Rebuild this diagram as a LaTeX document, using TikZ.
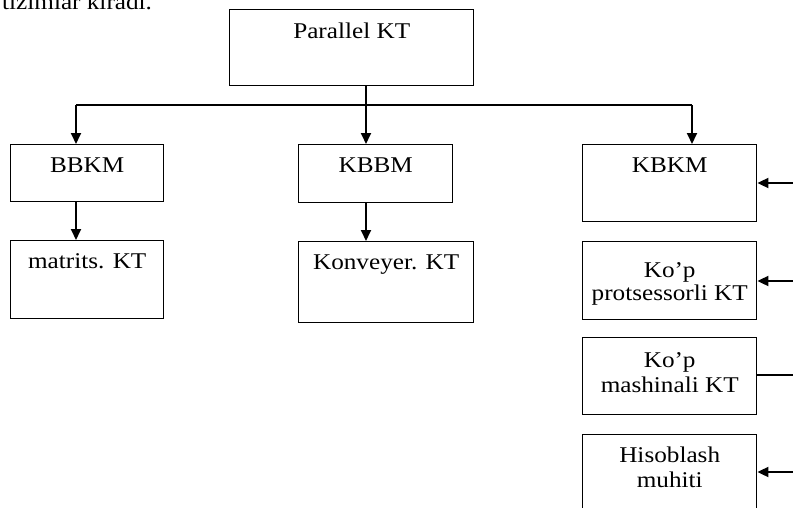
\documentclass[tikz,border=0pt]{standalone}
\usepackage{fontspec}
\setmainfont{Liberation Serif}[FakeStretch=1.12]
\usetikzlibrary{arrows.meta}
\begin{document}
\begin{tikzpicture}[x=1pt,y=-1pt,
  font=\fontsize{22.5}{24}\selectfont,
  box/.style={draw, line width=1.4pt, rectangle, anchor=north west, inner sep=0pt},
  txt/.style={anchor=base, inner sep=0pt},
  conn/.style={line width=1.6pt},
  arr/.style={line width=1.8pt, -{Triangle[length=11pt,width=10pt]}}]
\clip (0,0) rectangle (793,507);
% clipped text line above the figure
\node[txt, anchor=base west] (top) at (2,9) {tizimlar kiradi.};
% boxes
\node[box, minimum width=244pt, minimum height=76pt] (par) at (229,9) {};
\node[box, minimum width=153pt, minimum height=57pt] (bbkm) at (10,144) {};
\node[box, minimum width=153pt, minimum height=78pt] (matr) at (10,240) {};
\node[box, minimum width=154pt, minimum height=58pt] (kbbm) at (298,144) {};
\node[box, minimum width=175pt, minimum height=81pt] (konv) at (298,241) {};
\node[box, minimum width=174pt, minimum height=77pt] (kbkm) at (582,144) {};
\node[box, minimum width=174pt, minimum height=78pt] (prot) at (582,241) {};
\node[box, minimum width=174pt, minimum height=77pt] (mash) at (582,337) {};
\node[box, minimum width=174pt, minimum height=76pt] (hiso) at (582,434) {};
% texts
\node[txt] (tpar) at ([yshift=-29pt]par.north) {Parallel KT};
\node[txt] (tbbkm) at ([yshift=-28pt]bbkm.north) {BBKM};
\node[txt] (tmatr) at ([yshift=-28pt]matr.north) {matrits. KT};
\node[txt] (tkbbm) at ([yshift=-28pt]kbbm.north) {KBBM};
\node[txt] (tkonv) at ([yshift=-28pt]konv.north) {Konveyer. KT};
\node[txt] (tkbkm) at ([yshift=-28pt]kbkm.north) {KBKM};
\node[txt] (tprot1) at ([yshift=-36pt]prot.north) {Ko’p};
\node[txt] (tprot2) at ([yshift=-59pt]prot.north) {protsessorli KT};
\node[txt] (tmash1) at ([yshift=-30pt]mash.north) {Ko’p};
\node[txt] (tmash2) at ([yshift=-55pt]mash.north) {mashinali KT};
\node[txt] (thiso1) at ([yshift=-28pt]hiso.north) {Hisoblash};
\node[txt] (thiso2) at ([yshift=-53pt]hiso.north) {muhiti};
% junction coordinates
\coordinate (j1) at (76,105);
\coordinate (j2) at (366,105);
\coordinate (j3) at (692,105);
\coordinate (r1) at (793,183);
\coordinate (r2) at (793,281);
\coordinate (r3) at (793,375);
\coordinate (r4) at (793,472);
% connectors
\draw[conn] (j1) -- (j3);
\draw[conn] (par.south -| j2) -- (j2);
\draw[arr] (j1) -- (j1 |- bbkm.north);
\draw[arr] (j2) -- (j2 |- kbbm.north);
\draw[arr] (j3) -- (j3 |- kbkm.north);
\draw[arr] (j1 |- bbkm.south) -- (j1 |- matr.north);
\draw[arr] (j2 |- kbbm.south) -- (j2 |- konv.north);
\draw[arr] (r1) -- (r1 -| kbkm.east);
\draw[arr] (r2) -- (r2 -| prot.east);
\draw[conn] (r3) -- (r3 -| mash.east);
\draw[arr] (r4) -- (r4 -| hiso.east);
\end{tikzpicture}
\end{document}
